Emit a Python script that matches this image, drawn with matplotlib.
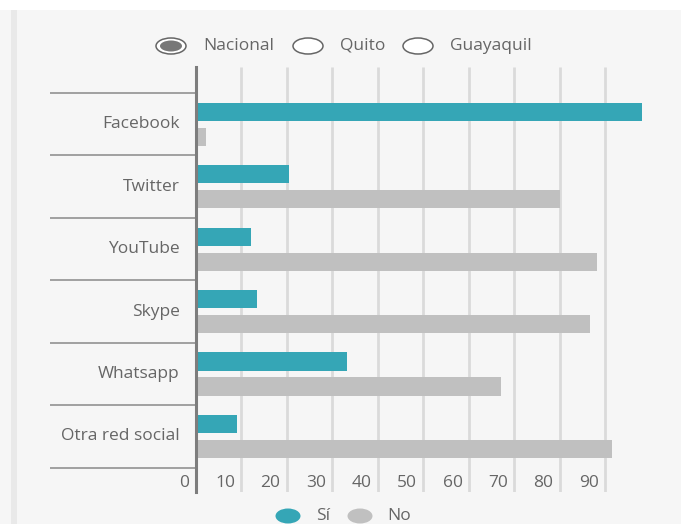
import matplotlib.pyplot as plt
from matplotlib.patches import Ellipse, Rectangle
import numpy as np

plt.rcParams['font.family'] = ['Open Sans', 'DejaVu Sans']

# redes sociales usadas (porcentaje)
categorias = ["Facebook", "Twitter", "YouTube", "Skype", "Whatsapp", "Otra red social"]
si = [98.2, 20.5, 12.2, 13.6, 33.3, 9.1]
no = [2.2, 80.0, 88.2, 86.7, 67.2, 91.6]
ticks = [0, 10, 20, 30, 40, 50, 60, 70, 80, 90]
opciones = ["Nacional", "Quito", "Guayaquil"]
leyenda = ["Sí", "No"]

teal = "#35a6b6"
gris = "#c0c0c0"
txt = "#666666"
bg = "#f6f6f6"
fs = 12.5

fig = plt.figure(figsize=(6.81, 5.24), dpi=100, facecolor=bg)
# franja blanca arriba y borde izquierdo
fig.add_artist(Rectangle((0, 1 - 10 / 524), 1, 10 / 524, transform=fig.transFigure,
                         facecolor="white", edgecolor="none"))
fig.add_artist(Rectangle((11 / 681, 0), 6 / 681, 1 - 10 / 524, transform=fig.transFigure,
                         facecolor="#e9e9e9", edgecolor="none"))

ax = fig.add_axes([195.5 / 681, 1 - 492 / 524, 455 / 681, 425 / 524])
ax.set_facecolor(bg)

y = np.arange(len(categorias))
ax.barh(y - 0.2, si, height=0.29, color=teal, zorder=3)
ax.barh(y + 0.2, no, height=0.29, color=gris, zorder=3)

ax.set_xlim(0, 100)
ax.set_ylim(5.89, -0.917)

# lineas verticales
ax.vlines(ticks[1:], 5.89, -0.917, color="#dadada", lw=2, zorder=1)

for s in ["top", "right", "bottom"]:
    ax.spines[s].set_visible(False)
ax.spines["left"].set_color("#7d7d7d")
ax.spines["left"].set_linewidth(2.2)
ax.spines["left"].set_zorder(4)
ax.set_xticks([])
ax.set_yticks([])

# separadores y nombres de categorias
tr = ax.get_yaxis_transform()
bordes = np.arange(len(categorias) + 1) - 0.5
ax.hlines(bordes, -0.32, 0, transform=tr, color="#9a9a9a", lw=1.3, clip_on=False)
for i, c in enumerate(categorias):
    ax.text(-0.035, i, c, transform=tr, ha="right", va="center",
            fontsize=fs, color=txt)

# etiquetas del eje x
for t in ticks:
    ax.text(t - 1.3, 5.74, str(t), ha="right", va="center", fontsize=fs, color=txt)

# selector superior
xs_e = [171 / 681, 308 / 681, 418 / 681]
xs_t = [203 / 681, 340 / 681, 450 / 681]
yc = 1 - 46 / 524
for i, (o, xe, xt) in enumerate(zip(opciones, xs_e, xs_t)):
    fig.add_artist(Ellipse((xe, yc), 30 / 681, 16 / 524, transform=fig.transFigure,
                           facecolor="white", edgecolor="#666666", lw=1.1))
    if i == 0:
        fig.add_artist(Ellipse((xe, yc), 22 / 681, 11 / 524, transform=fig.transFigure,
                               facecolor="#777777", edgecolor="none"))
    fig.text(xt, yc, o, ha="left", va="center", fontsize=fs, color=txt)

# leyenda inferior
yl = 1 - 516 / 524
for xe, xt, c, l in zip([288 / 681, 360 / 681], [316 / 681, 387 / 681], [teal, gris], leyenda):
    fig.add_artist(Ellipse((xe, yl), 25 / 681, 15 / 524, transform=fig.transFigure,
                           facecolor=c, edgecolor="none"))
    fig.text(xt, yl, l, ha="left", va="center", fontsize=fs, color=txt)

fig.savefig("out.png", dpi=100, facecolor=bg)
